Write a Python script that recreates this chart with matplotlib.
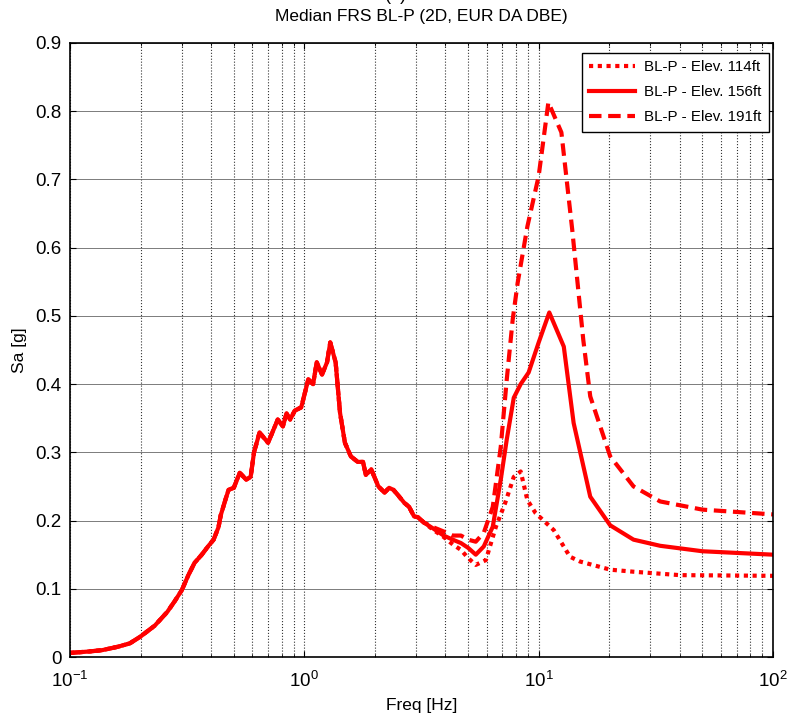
import numpy as np
import matplotlib
matplotlib.use('Agg')
import matplotlib.pyplot as plt

# shared low-frequency part of the three spectra (they overlap up to ~3 Hz)
freq_common = [0.10, 0.12, 0.137, 0.16, 0.18, 0.20, 0.23, 0.26, 0.28, 0.30, 0.32, 0.34, 0.365,
               0.39, 0.41, 0.43, 0.44, 0.46, 0.475, 0.50, 0.53, 0.565, 0.59, 0.61, 0.644,
               0.70, 0.77, 0.81, 0.84, 0.87, 0.91, 0.97, 1.04, 1.09, 1.13, 1.19, 1.25,
               1.29, 1.36, 1.42, 1.49, 1.58, 1.69, 1.78, 1.83, 1.93, 2.07, 2.2, 2.3, 2.4,
               2.5, 2.67, 2.8, 2.94, 3.05, 3.24]
sa_common = [0.006, 0.008, 0.01, 0.015, 0.02, 0.03, 0.046, 0.066, 0.082, 0.098, 0.12, 0.138, 0.15,
             0.163, 0.172, 0.19, 0.208, 0.23, 0.245, 0.248, 0.27, 0.26, 0.264, 0.30, 0.329,
             0.314, 0.348, 0.338, 0.357, 0.348, 0.361, 0.366, 0.407, 0.40, 0.432, 0.414, 0.432,
             0.461, 0.432, 0.358, 0.314, 0.294, 0.286, 0.286, 0.267, 0.275, 0.25, 0.241, 0.248, 0.245,
             0.238, 0.226, 0.22, 0.206, 0.205, 0.197]

# split part, per elevation
freq_114 = [3.56, 3.93, 4.3, 4.66, 5.0, 5.39, 5.95, 6.57, 7.2, 7.83, 8.38, 8.95, 9.7,
            11.6, 13.6, 15.0, 20.2, 25.4, 40.0, 100.0]
sa_114 = [0.186, 0.176, 0.165, 0.157, 0.145, 0.135, 0.142, 0.191, 0.226, 0.264, 0.272, 0.23, 0.211,
          0.186, 0.147, 0.14, 0.128, 0.125, 0.12, 0.119]

freq_156 = [3.56, 3.93, 4.3, 4.66, 5.0, 5.39, 5.83, 6.37, 6.89, 7.31, 7.83, 8.38, 9.06,
            10.0, 11.1, 12.8, 14.1, 16.6, 20.2, 25.4, 33.0, 50.0, 100.0]
sa_156 = [0.188, 0.178, 0.172, 0.167, 0.16, 0.15, 0.162, 0.191, 0.26, 0.319, 0.38, 0.40, 0.417,
          0.461, 0.505, 0.455, 0.343, 0.235, 0.193, 0.172, 0.163, 0.155, 0.15]

freq_191 = [3.56, 3.93, 4.3, 4.66, 5.0, 5.39, 5.83, 6.37, 6.89, 7.31, 7.75, 8.14, 8.95,
            10.0, 11.0, 12.5, 13.9, 15.5, 16.6, 20.2, 25.4, 33.0, 50.0, 100.0]
sa_191 = [0.19, 0.184, 0.178, 0.178, 0.172, 0.169, 0.182, 0.22, 0.308, 0.407, 0.495, 0.549, 0.631,
          0.705, 0.813, 0.769, 0.627, 0.465, 0.382, 0.294, 0.25, 0.228, 0.216, 0.209]

labels = ['BL-P - Elev. 114ft', 'BL-P - Elev. 156ft', 'BL-P - Elev. 191ft']

plt.rcParams['font.family'] = ['Liberation Sans', 'DejaVu Sans']
plt.rcParams['mathtext.default'] = 'regular'

fig = plt.figure(figsize=(7.88, 7.23), dpi=100)
ax = fig.add_axes([70 / 788, 1 - 657 / 723, (773 - 70) / 788, (657 - 43) / 723])

lw = 3.0
ax.plot(freq_common + freq_114, sa_common + sa_114, color='red', lw=lw,
        linestyle=(0, (1, 1.1)), label=labels[0])
ax.plot(freq_common + freq_156, sa_common + sa_156, color='red', lw=lw,
        linestyle='-', label=labels[1])
ax.plot(freq_common + freq_191, sa_common + sa_191, color='red', lw=lw,
        linestyle=(0, (3, 1.6)), label=labels[2])

ax.set_xscale('log')
ax.set_xlim(0.1, 100)
ax.set_ylim(0, 0.9)
ax.set_yticks(np.arange(0, 0.91, 0.1))
ax.set_yticklabels(['0', '0.1', '0.2', '0.3', '0.4', '0.5', '0.6', '0.7', '0.8', '0.9'])

ax.grid(True, which='both', axis='x', color='0.2', linestyle=':', linewidth=0.8)
ax.grid(True, which='major', axis='y', color='0.4', linestyle='-', linewidth=0.6)
ax.tick_params(which='both', direction='in', top=True, right=True, labelsize=13.5)
ax.tick_params(which='major', length=4)
ax.tick_params(which='minor', length=2.5)
ax.tick_params(axis='x', which='major', pad=10)
ax.tick_params(axis='y', pad=6)
for s in ax.spines.values():
    s.set_linewidth(1.2)

ax.set_xlabel('Freq [Hz]', fontsize=12.5, labelpad=5)
ax.set_ylabel('Sa [g]', fontsize=12.5, labelpad=6)
ax.set_title('Median FRS BL-P (2D, EUR DA DBE)', fontsize=12.5, pad=16)
fig.text(0.503, 1.0, '(a)', ha='center', va='baseline', fontsize=13)

leg = ax.legend(loc='upper right', bbox_to_anchor=(0.994, 0.984), borderaxespad=0,
                fontsize=10.9, fancybox=False, framealpha=1, edgecolor='black',
                handlelength=3.0, borderpad=0.5, labelspacing=0.72, handletextpad=0.6)
leg.get_frame().set_linewidth(1.0)

fig.savefig('out.png', dpi=100)
